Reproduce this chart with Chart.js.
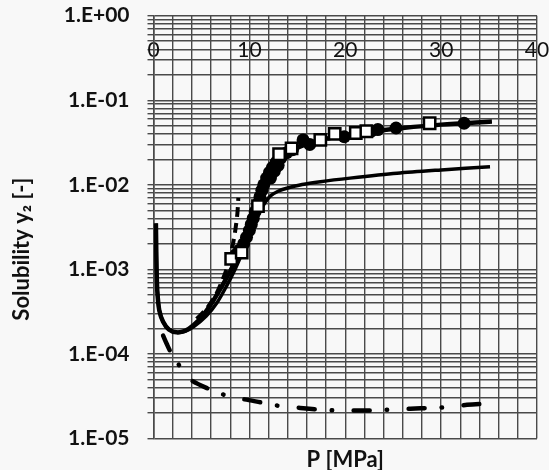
<!DOCTYPE html>
<html>
<head>
<meta charset="utf-8">
<script src="https://cdn.jsdelivr.net/npm/chart.js@4"></script>
<style>
  html, body { margin: 0; padding: 0; background: #f8f8f8; }
  #wrap { width: 549px; height: 470px; }
</style>
</head>
<body>
<div id="wrap"><canvas id="chart"></canvas></div>
<script>
// tick labels
const xTickValues = [0, 10, 20, 30, 40];
const yDecades = [1, 1e-1, 1e-2, 1e-3, 1e-4, 1e-5];
const yTickLabels = ["1.E+00", "1.E-01", "1.E-02", "1.E-03", "1.E-04", "1.E-05"];

// experimental points: filled circles
const circleX = [8.6, 9.0, 9.4, 9.7, 10.0, 10.2, 10.4, 10.6, 10.9, 11.1, 11.3, 11.5, 11.8, 12.1, 12.2, 12.4, 12.6, 12.8, 13.0, 13.3, 13.9, 14.5, 15.6, 16.3, 19.9, 22.7, 23.4, 25.3, 32.4];
const circleY = [1.5e-3, 1.7e-3, 2.0e-3, 2.4e-3, 2.9e-3, 3.4e-3, 4.0e-3, 4.8e-3, 6.0e-3, 7.2e-3, 8.6e-3, 1.0e-2, 1.2e-2, 1.4e-2, 1.2e-2, 1.6e-2, 1.45e-2, 1.85e-2, 1.7e-2, 2.1e-2, 2.4e-2, 2.6e-2, 3.4e-2, 3.0e-2, 3.7e-2, 4.3e-2, 4.5e-2, 4.7e-2, 5.35e-2];

// experimental points: open squares
const squareX = [8.1, 9.2, 10.9, 13.1, 14.4, 17.4, 18.9, 21.1, 22.2, 28.8];
const squareY = [1.33e-3, 1.58e-3, 5.6e-3, 2.3e-2, 2.7e-2, 3.4e-2, 4.0e-2, 4.1e-2, 4.3e-2, 5.35e-2];

// model curve through the data (solid)
const upperX = [0.25, 0.28, 0.32, 0.4, 0.6, 1.0, 1.6, 2.4, 3.3, 4.2, 5.2, 6.2, 7.2, 8.0, 8.8, 9.5, 10.1, 10.6, 11.0, 11.4, 11.8, 12.3, 12.9, 13.6, 14.5, 16, 18, 20, 23, 26, 30, 35.3];
const upperY = [3.5e-3, 2.0e-3, 1.0e-3, 5.5e-4, 3.3e-4, 2.4e-4, 1.95e-4, 1.8e-4, 1.88e-4, 2.2e-4, 2.9e-4, 4.2e-4, 6.5e-4, 9.5e-4, 1.45e-3, 2.1e-3, 3.0e-3, 4.1e-3, 5.4e-3, 7.2e-3, 9.8e-3, 1.35e-2, 1.75e-2, 2.15e-2, 2.55e-2, 3.05e-2, 3.5e-2, 3.85e-2, 4.3e-2, 4.7e-2, 5.15e-2, 5.6e-2];

// second model curve (solid, lower at high P)
const lowerX = [0.25, 0.28, 0.32, 0.4, 0.6, 1.0, 1.6, 2.4, 3.3, 4.2, 5.5, 6.6, 7.6, 8.5, 9.3, 10.0, 10.6, 11.2, 11.7, 12.2, 13.0, 13.9, 15.5, 17.4, 20.5, 25.4, 30, 35.1];
const lowerY = [3.5e-3, 2.0e-3, 1.0e-3, 5.5e-4, 3.3e-4, 2.4e-4, 1.95e-4, 1.8e-4, 1.85e-4, 2.1e-4, 2.8e-4, 4.0e-4, 6.3e-4, 1.0e-3, 1.6e-3, 2.5e-3, 3.6e-3, 5.1e-3, 6.3e-3, 7.4e-3, 8.4e-3, 9.1e-3, 1.01e-2, 1.09e-2, 1.2e-2, 1.37e-2, 1.5e-2, 1.64e-2];

// dashed curve
const dashX = [4.5, 5.5, 6.5, 7.2, 7.8, 8.25, 8.55, 8.75, 8.85];
const dashY = [2.6e-4, 3.4e-4, 5.0e-4, 7.5e-4, 1.15e-3, 1.9e-3, 3.0e-3, 4.6e-3, 7.0e-3];

// dash-dot curve
const dashDotX = [1.0, 1.4, 1.8, 2.8, 3.8, 5.9, 7.7, 9.5, 11.4, 13.4, 15.3, 17.2, 19.1, 21.0, 23.1, 24.9, 26.8, 28.9, 30.7, 32.7, 35.1];
const dashDotY = [1.65e-4, 1.3e-4, 1.05e-4, 7e-5, 5e-5, 3.8e-5, 3.2e-5, 2.9e-5, 2.65e-5, 2.4e-5, 2.3e-5, 2.2e-5, 2.15e-5, 2.15e-5, 2.15e-5, 2.2e-5, 2.25e-5, 2.3e-5, 2.35e-5, 2.5e-5, 2.6e-5];

const pts = (xs, ys) => xs.map((x, i) => ({ x: x, y: ys[i] }));

const FONT = "Lato, 'Open Sans', sans-serif";
const gridColor = "#4a4a4a";

const titles = {
  id: "titles",
  beforeDraw(chart) {
    const c = chart.ctx;
    c.save();
    c.fillStyle = "#f8f8f8";
    c.fillRect(0, 0, chart.width, chart.height);
    c.restore();
  },
  afterDraw(chart) {
    const c = chart.ctx;
    const a = chart.chartArea;
    c.save();
    c.fillStyle = "#111";
    c.font = "bold 22px " + FONT;
    c.textAlign = "center";
    c.textBaseline = "middle";
    c.fillText("P [MPa]", (a.left + a.right) / 2, a.bottom + 21.5);
    c.translate(22, (a.top + a.bottom) / 2 + 22);
    c.rotate(-Math.PI / 2);
    c.fillText("Solubility y\u2082 [-]", 0, 0);
    c.restore();
  },
};

const ctx = document.getElementById("chart");
const chart = new Chart(ctx, {
  type: "scatter",
  data: {
    datasets: [
      {
        label: "squares",
        data: pts(squareX, squareY),
        pointStyle: "rect",
        pointRadius: 8,
        backgroundColor: "#ffffff",
        borderColor: "#000000",
        borderWidth: 2.5,
      },
      {
        label: "circles",
        data: pts(circleX, circleY),
        pointStyle: "circle",
        pointRadius: 6.5,
        backgroundColor: "#000000",
        borderColor: "#000000",
        borderWidth: 0,
      },
      {
        label: "model 1",
        data: pts(upperX, upperY),
        showLine: true,
        pointRadius: 0,
        borderColor: "#000000",
        borderWidth: 4.5,
        tension: 0.3,
      },
      {
        label: "model 2",
        data: pts(lowerX, lowerY),
        showLine: true,
        pointRadius: 0,
        borderColor: "#000000",
        borderWidth: 3.5,
        tension: 0.3,
      },
      {
        label: "model 3",
        data: pts(dashX, dashY),
        showLine: true,
        pointRadius: 0,
        borderColor: "#000000",
        borderWidth: 4,
        borderDash: [10, 6],
        tension: 0.3,
      },
      {
        label: "model 4",
        data: pts(dashDotX, dashDotY),
        showLine: true,
        pointRadius: 0,
        borderColor: "#000000",
        borderWidth: 4.5,
        borderCapStyle: "round",
        borderDash: [16, 17, 0.5, 21.5],
        tension: 0.3,
      },
    ],
  },
  options: {
    responsive: true,
    maintainAspectRatio: false,
    animation: false,
    layout: {
      padding: { left: 0, top: 15.7, right: 12, bottom: 31.5 },
    },
    plugins: {
      legend: { display: false },
      tooltip: { enabled: false },
    },
    scales: {
      x: {
        type: "linear",
        min: 0,
        max: 40,
        position: { y: 1 },
        afterFit: (scale) => {
          scale.paddingLeft = 0;
          scale.paddingRight = 0;
        },
        grid: {
          color: gridColor,
          lineWidth: 1.4,
          drawTicks: false,
        },
        border: { display: false },
        ticks: {
          stepSize: 2,
          autoSkip: false,
          maxRotation: 0,
          padding: 21.7,
          color: "#111",
          font: { family: FONT, size: 21 },
          callback: (v) => (xTickValues.includes(v) ? String(v) : ""),
        },
      },
      y: {
        type: "logarithmic",
        min: 1e-5,
        max: 1,
        afterFit: (scale) => {
          scale.width = 153.5;
          scale.paddingTop = 0;
          scale.paddingBottom = 0;
        },
        afterBuildTicks: (scale) => {
          const t = [];
          for (let i = yDecades.length - 1; i > 0; i--) {
            for (let m = 1; m < 10; m++) t.push({ value: m * yDecades[i] });
          }
          t.push({ value: yDecades[0] });
          scale.ticks = t;
        },
        grid: {
          color: gridColor,
          lineWidth: 1.4,
          tickLength: 6,
        },
        border: { color: gridColor, width: 1.6 },
        ticks: {
          autoSkip: false,
          padding: 18,
          color: "#111",
          font: { family: FONT, size: 21, weight: "bold" },
          callback: (v) => {
            const i = yDecades.findIndex((d) => Math.abs(Math.log10(v) - Math.log10(d)) < 1e-6);
            return i >= 0 ? yTickLabels[i] : "";
          },
        },
      },
    },
  },
  plugins: [titles],
});
</script>
</body>
</html>
